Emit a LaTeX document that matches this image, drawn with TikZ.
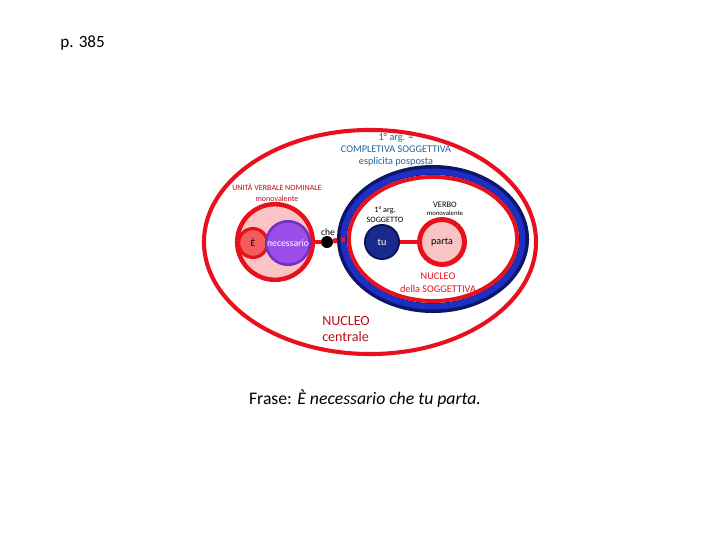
\documentclass[tikz,border=0pt]{standalone}
\usepackage{fontspec}
\setmainfont{Carlito}
\usetikzlibrary{shapes.geometric}
\definecolor{xRed}{RGB}{232,16,28}
\definecolor{xPink}{RGB}{250,196,196}
\definecolor{xSalmon}{RGB}{242,92,92}
\definecolor{xViolet}{RGB}{155,78,232}
\definecolor{xVioletDk}{RGB}{112,48,196}
\definecolor{xNavy}{RGB}{14,22,104}
\definecolor{xBlue}{RGB}{30,48,196}
\definecolor{xTu}{RGB}{26,42,140}
\definecolor{xTuDk}{RGB}{10,20,88}
\definecolor{xWine}{RGB}{184,14,26}
\definecolor{xTeal}{RGB}{36,100,150}
\newcommand{\fsz}[2]{\fontsize{#1}{#2}\selectfont}
\tikzset{
  shell/.style={ellipse, draw=xRed, line width=2.9pt, inner sep=0pt},
  blob/.style={circle, draw=xRed, line width=3.2pt, inner sep=0pt, fill=xPink},
  tag/.style={align=center, inner sep=0pt},
  link/.style={xRed, line width=3.5pt},
}

\begin{document}
\begin{tikzpicture}[x=0.025cm, y=-0.025cm]
    \useasboundingbox (0,0) rectangle (720,540);
    % rings
    \node[shell, minimum width=8.3cm, minimum height=5.6cm] (centrale) at (370,242) {};
    \node[shell, draw=xNavy, line width=7.1pt, minimum width=4.55cm, minimum height=3.45cm] (ring) at (433,239) {};
    \node[shell, draw=xBlue, line width=4.2pt, minimum width=4.475cm, minimum height=3.375cm] at (433,239) {};
    \node[shell, line width=2.8pt, minimum width=4.2cm, minimum height=3.1cm] (nucsog) at (433,239) {};
    % small circles
    \node[blob, minimum size=1.89cm] (unita) at (275,242) {};
    \node[circle, fill=black, inner sep=0pt, minimum size=0.3cm] (che) at (327,242) {};
    \draw[link] (unita) -- (che);
    \draw[link, dash pattern=on 3pt off 2.5pt] (che) -- (nucsog.west);
    \node[circle, draw=xTuDk, line width=1.4pt, fill=xTu, inner sep=0pt, minimum size=0.85cm,
          text=white, font=\fsz{7.2}{8}] (tu) at (382,242) {tu};
    \node[blob, line width=3.5pt, minimum size=1.125cm, font=\fsz{7.2}{8}] (parta) at (442,242) {parta};
    \draw[link] (tu) -- (parta);
    \node[circle, draw=xRed, line width=2.3pt, fill=xSalmon, inner sep=0pt, minimum size=0.72cm,
          font=\fsz{6.6}{7}] (e) at (253,243) {È};
    \node[circle, draw=xVioletDk, line width=1.8pt, fill=xViolet, inner sep=0pt, minimum size=1.09cm,
          text=white, font=\fsz{6.9}{8}] (necess) at (288,243) {necessario};
    % labels
    \node[tag, text=xTeal, font=\fsz{7.3}{8.5}] (argcompl) at (396,150)
      {1° arg. =\\COMPLETIVA SOGGETTIVA\\esplicita posposta};
    \node[tag, text=xWine, font=\fsz{5.7}{7.8}] (unitatag) at (277,192.5)
      {UNITÀ VERBALE NOMINALE\\monovalente};
    \node[tag, font=\fsz{5.8}{7}] (soggtag) at (385,215) {1° arg.\\SOGGETTO};
    \node[tag, font=\fsz{6}{5.7}] (verbotag) at (445,209) {VERBO\\{\fsz{4.8}{5.7}monovalente}};
    \node[tag, anchor=south, font=\fsz{6.8}{7}] (chetag) at (328,236) {che};
    \node[tag, text=xRed, font=\fsz{7.3}{9.2}] (nucsogtag) at (438,282.5)
      {NUCLEO\\della SOGGETTIVA};
    \node[tag, align=left, anchor=west, text=xWine, font=\fsz{10}{11.3}] (nuccen) at (322,329)
      {NUCLEO\\centrale};
    \node[tag, font=\fsz{12.6}{14}] (frase) at (365,399) {Frase: \textit{È necessario che tu parta.}};
    \node[tag, anchor=west, font=\fsz{12.2}{14}] (pagina) at (60,43) {p. 385};
\end{tikzpicture}
\end{document}
